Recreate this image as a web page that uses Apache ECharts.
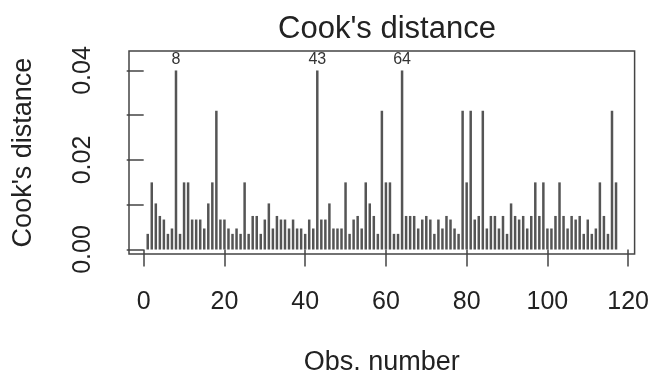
<!DOCTYPE html>
<html>
<head>
<meta charset="utf-8">
<title>Cook's distance</title>
<script src="https://cdn.jsdelivr.net/npm/echarts@6/dist/echarts.min.js"></script>
<style>
  html, body { margin: 0; padding: 0; background: #fff; }
  #CookChart { width: 652px; height: 381px; }
</style>
</head>
<body>
<div id="CookChart"></div>
<script>
const cookValues = [
  0.0035, 0.015, 0.0103, 0.0075, 0.0067, 0.0035, 0.0047, 0.040, 0.0035, 0.015,
  0.015, 0.0067, 0.0067, 0.0067, 0.0047, 0.0103, 0.015, 0.031, 0.0067, 0.0067,
  0.0047, 0.0035, 0.0047, 0.0035, 0.015, 0.0035, 0.0075, 0.0075, 0.0035, 0.0067,
  0.0103, 0.0047, 0.0075, 0.0067, 0.0067, 0.0047, 0.0067, 0.0047, 0.0047, 0.0035,
  0.0067, 0.0047, 0.040, 0.0067, 0.0067, 0.0103, 0.0047, 0.0047, 0.0047, 0.015,
  0.0035, 0.0067, 0.0075, 0.0047, 0.015, 0.0103, 0.0075, 0.0035, 0.031, 0.015,
  0.015, 0.0035, 0.0035, 0.040, 0.0075, 0.0075, 0.0075, 0.0047, 0.0067, 0.0075,
  0.0067, 0.0035, 0.0067, 0.0047, 0.0075, 0.0067, 0.0047, 0.0035, 0.031, 0.015,
  0.031, 0.0067, 0.0075, 0.031, 0.0047, 0.0075, 0.0075, 0.0047, 0.0075, 0.0035,
  0.0103, 0.0075, 0.0067, 0.0075, 0.0047, 0.0075, 0.015, 0.0075, 0.015, 0.0047,
  0.0047, 0.0075, 0.015, 0.0075, 0.0047, 0.0075, 0.0067, 0.0075, 0.0035, 0.0067,
  0.0035, 0.0047, 0.015, 0.0075, 0.0035, 0.031, 0.015
];
const labelledObs = [8, 43, 64];
const xTicks = [0, 20, 40, 60, 80, 100, 120];
const yTicks = [0, 0.01, 0.02, 0.03, 0.04];
const yTickLabels = [0, 0.02, 0.04];

const fontFam = 'Liberation Sans';
const inkColor = '#333';

let chartData = cookValues.map((v, i) => {
  let obs = i + 1;
  let item = { value: [obs, v] };
  if (labelledObs.indexOf(obs) > -1) {
    item.label = { show: true, position: 'top', distance: 3, formatter: String(obs) };
  }
  return item;
});

let myChart = echarts.init(document.getElementById('CookChart'));
myChart.setOption({
  animation: false,
  title: {
    text: "Cook's distance",
    left: 382,
    top: 9,
    textAlign: 'center',
    textStyle: { fontFamily: fontFam, fontSize: 31, fontWeight: 'normal', color: '#222' }
  },
  grid: {
    left: 129,
    right: 17,
    top: 51,
    bottom: 122,
    show: true,
    borderColor: '#444',
    borderWidth: 1.5,
    containLabel: false
  },
  xAxis: {
    type: 'value',
    min: -3.64,
    max: 121.6,
    name: 'Obs. number',
    nameLocation: 'middle',
    nameGap: 95,
    nameTextStyle: { fontFamily: fontFam, fontSize: 27, color: '#222' },
    splitLine: { show: false },
    axisLine: { show: false },
    axisTick: { show: true, length: 17, lineStyle: { color: '#444', width: 1.5 }, customValues: xTicks },
    axisLabel: {
      fontFamily: fontFam, fontSize: 25, color: '#222', margin: 36,
      customValues: xTicks
    }
  },
  yAxis: {
    type: 'value',
    min: -0.001,
    max: 0.04435,
    name: "Cook's distance",
    nameLocation: 'middle',
    nameGap: 92,
    nameRotate: 90,
    nameTextStyle: { fontFamily: fontFam, fontSize: 27, color: '#222' },
    splitLine: { show: false },
    axisLine: { show: false },
    axisTick: { show: true, length: 17, lineStyle: { color: '#444', width: 1.5 }, customValues: yTicks },
    axisLabel: {
      fontFamily: fontFam, fontSize: 25, color: '#222', margin: 33, rotate: 90,
      customValues: yTickLabels,
      formatter: v => v.toFixed(2)
    }
  },
  series: [
    {
      type: 'bar',
      barWidth: 2.5,
      itemStyle: { color: '#555' },
      label: { fontFamily: fontFam, fontSize: 16, color: inkColor },
      data: chartData
    }
  ]
});
</script>
</body>
</html>
